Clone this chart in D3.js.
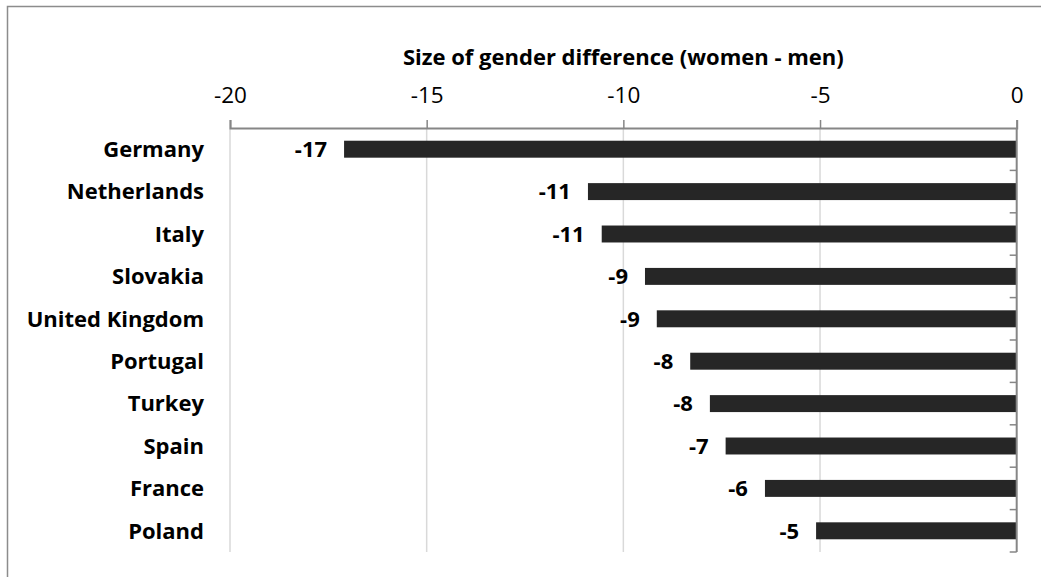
<!DOCTYPE html>
<html><head><meta charset="utf-8">
<script src="https://cdn.jsdelivr.net/npm/d3@7"></script>
<style>body{margin:0;background:#fff;} text{font-family:"Open Sans",sans-serif;}</style>
</head><body>
<svg id="c" width="1041" height="577"></svg>
<script>
const countries = ["Germany","Netherlands","Italy","Slovakia","United Kingdom","Portugal","Turkey","Spain","France","Poland"];
const values = [-17.1,-10.9,-10.55,-9.45,-9.15,-8.3,-7.8,-7.4,-6.4,-5.1];
const tickValues = [-20,-15,-10,-5,0];
const axisTitle = "Size of gender difference (women - men)";

(function(){
const svg = d3.select("#c");
const pL = 230, pR = 1016.7, pT = 128, pB = 552;
svg.append("rect").attr("x",7.5).attr("y",6.5).attr("width",1060).attr("height",600)
  .attr("fill","#fff").attr("stroke","#8c8c8c").attr("stroke-width",1.5);

const x = d3.scaleLinear().domain([-20,0]).range([pL,pR]);
const y = d3.scaleBand().domain(countries).range([pT,pB]).paddingInner(0.6).paddingOuter(0.3);

svg.append("g").selectAll("line").data(tickValues.filter(d=>d!==0)).join("line")
  .attr("x1",d=>x(d)).attr("x2",d=>x(d)).attr("y1",pT).attr("y2",pB)
  .attr("stroke","#d9d9d9").attr("stroke-width",1.5);

const xa = svg.append("g").attr("transform",`translate(0,${pT})`)
  .call(d3.axisTop(x).tickValues(tickValues).tickSize(8).tickPadding(17).tickFormat(d3.format("d")));
xa.select(".domain").attr("stroke","#868686").attr("stroke-width",2);
xa.selectAll(".tick line").attr("stroke","#868686").attr("stroke-width",1.5);
xa.selectAll(".tick text").attr("font-size",22.5).attr("fill","#000").attr("font-family","Open Sans").text(d=>d===0?"0":"-"+Math.abs(d));

svg.append("g").selectAll("rect").data(values).join("rect")
  .attr("x",d=>x(d)).attr("width",d=>x(0)-x(d))
  .attr("y",(d,i)=>y(countries[i])).attr("height",y.bandwidth())
  .attr("fill","#262626");

const yb = d3.scaleLinear().domain([0,countries.length]).range([pT,pB]);
svg.append("line").attr("x1",pR).attr("x2",pR).attr("y1",pT).attr("y2",pB)
  .attr("stroke","#868686").attr("stroke-width",2);
svg.append("g").selectAll("line").data(d3.range(1,countries.length+1)).join("line")
  .attr("x1",pR-7).attr("x2",pR).attr("y1",d=>yb(d)).attr("y2",d=>yb(d))
  .attr("stroke","#868686").attr("stroke-width",1.5);

svg.append("g").selectAll("text").data(countries).join("text")
  .attr("x",204).attr("y",d=>y(d)+y.bandwidth()/2).attr("dy","0.35em")
  .attr("text-anchor","end").attr("font-weight","bold").attr("font-size",22).text(d=>d);

svg.append("g").selectAll("text").data(values).join("text")
  .attr("x",d=>x(d)-17).attr("y",(d,i)=>y(countries[i])+y.bandwidth()/2).attr("dy","0.35em")
  .attr("text-anchor","end").attr("font-weight","bold").attr("font-size",22)
  .text(d=>"-"+Math.round(Math.abs(d)));

svg.append("text").attr("x",(pL+pR)/2).attr("y",65).attr("text-anchor","middle")
  .attr("font-weight","bold").attr("font-size",22).text(axisTitle);
})();
</script>
</body></html>
